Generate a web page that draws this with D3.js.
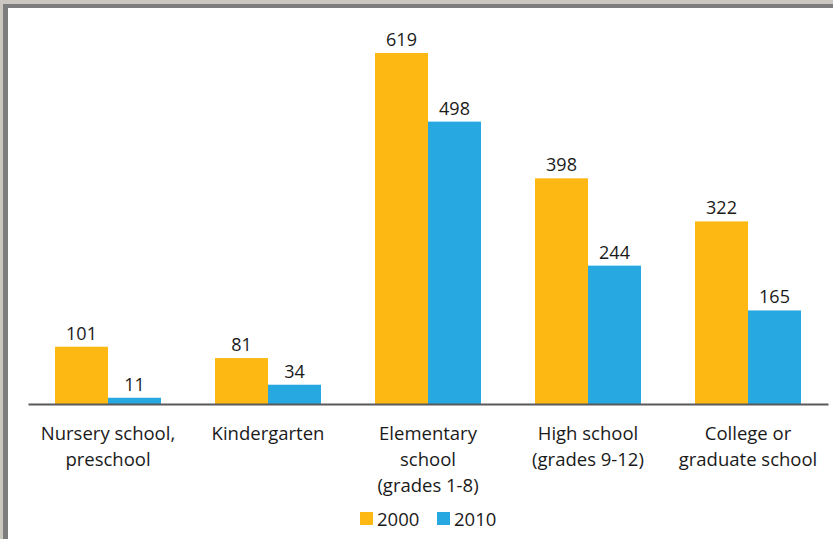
<!DOCTYPE html>
<html>
<head>
<meta charset="utf-8">
<script src="https://cdn.jsdelivr.net/npm/d3@7"></script>
<style>
  html, body { margin: 0; padding: 0; background: #fff; }
  svg { display: block; }
  text { font-family: "Open Sans", "Noto Sans", sans-serif; fill: #1a1a1a; }
</style>
</head>
<body>
<svg id="chart" width="833" height="539"></svg>
<script>
// Enrollment by level of school, 2000 vs 2010
const categories = [
  "Nursery school, preschool",
  "Kindergarten",
  "Elementary school (grades 1-8)",
  "High school (grades 9-12)",
  "College or graduate school"
];
const categoryLines = [
  ["Nursery school,", "preschool"],
  ["Kindergarten"],
  ["Elementary", "school", "(grades 1-8)"],
  ["High school", "(grades 9-12)"],
  ["College or", "graduate school"]
];
const seriesNames = ["2000", "2010"];
const values2000 = [101, 81, 619, 398, 322];
const values2010 = [11, 34, 498, 244, 165];
const seriesColors = ["#FDB813", "#27A8E0"];

const svg = d3.select("#chart");
const W = 833, H = 539;

// frame: grainy outer strip, dark rule, white panel
svg.append("rect").attr("x", 0).attr("y", 0).attr("width", W).attr("height", H).attr("fill", "#cbc6bf");
svg.append("rect").attr("x", 3).attr("y", 4).attr("width", W - 3).attr("height", H - 4).attr("fill", "#7d7d7d");
svg.append("rect").attr("x", 8).attr("y", 8).attr("width", W - 8).attr("height", H - 8).attr("fill", "#ffffff");

const baseY = 404;
const y = d3.scaleLinear().domain([0, 619]).range([baseY, 53]);
const x0 = d3.scaleBand().domain(categories).range([28, 828]).padding(0);
const x1 = d3.scaleBand().domain(seriesNames).range([27, 133]).padding(0);

const rows = categories.map((c, i) => ({
  cat: c,
  vals: [
    { s: seriesNames[0], v: values2000[i], color: seriesColors[0] },
    { s: seriesNames[1], v: values2010[i], color: seriesColors[1] }
  ]
}));

const groups = svg.append("g").selectAll("g").data(rows).join("g")
  .attr("transform", d => `translate(${x0(d.cat)},0)`);

groups.selectAll("rect").data(d => d.vals).join("rect")
  .attr("x", d => x1(d.s))
  .attr("y", d => y(d.v))
  .attr("width", x1.bandwidth())
  .attr("height", d => baseY - y(d.v))
  .attr("fill", d => d.color);

groups.selectAll("text.val").data(d => d.vals).join("text")
  .attr("class", "val")
  .attr("x", d => x1(d.s) + x1.bandwidth() / 2)
  .attr("y", d => y(d.v) - 7)
  .attr("text-anchor", "middle")
  .attr("font-size", 18)
  .text(d => d.v);

// category axis
const axis = d3.axisBottom(x0).tickSize(0).tickSizeOuter(0).tickFormat("");
const axG = svg.append("g").attr("transform", `translate(0,${baseY})`).call(axis);
axG.select(".domain").attr("stroke", "#595959").attr("stroke-width", 2);

const labels = svg.append("g").selectAll("text").data(categories).join("text")
  .attr("text-anchor", "middle")
  .attr("font-size", 18.5)
  .attr("x", d => x0(d) + x0.bandwidth() / 2)
  .attr("y", 440);
labels.each(function (d, i) {
  const t = d3.select(this);
  categoryLines[i].forEach((line, j) => {
    t.append("tspan")
      .attr("x", x0(d) + x0.bandwidth() / 2)
      .attr("dy", j === 0 ? 0 : 26)
      .text(line);
  });
});

// legend
const legend = svg.append("g").attr("transform", "translate(360,512)");
const legItems = legend.selectAll("g").data(seriesNames).join("g")
  .attr("transform", (d, i) => `translate(${i * 77},0)`);
legItems.append("rect").attr("width", 13).attr("height", 13)
  .attr("fill", (d, i) => seriesColors[i]);
legItems.append("text").attr("x", 17).attr("y", 13.5).attr("font-size", 18.5).text(d => d);
</script>
</body>
</html>
